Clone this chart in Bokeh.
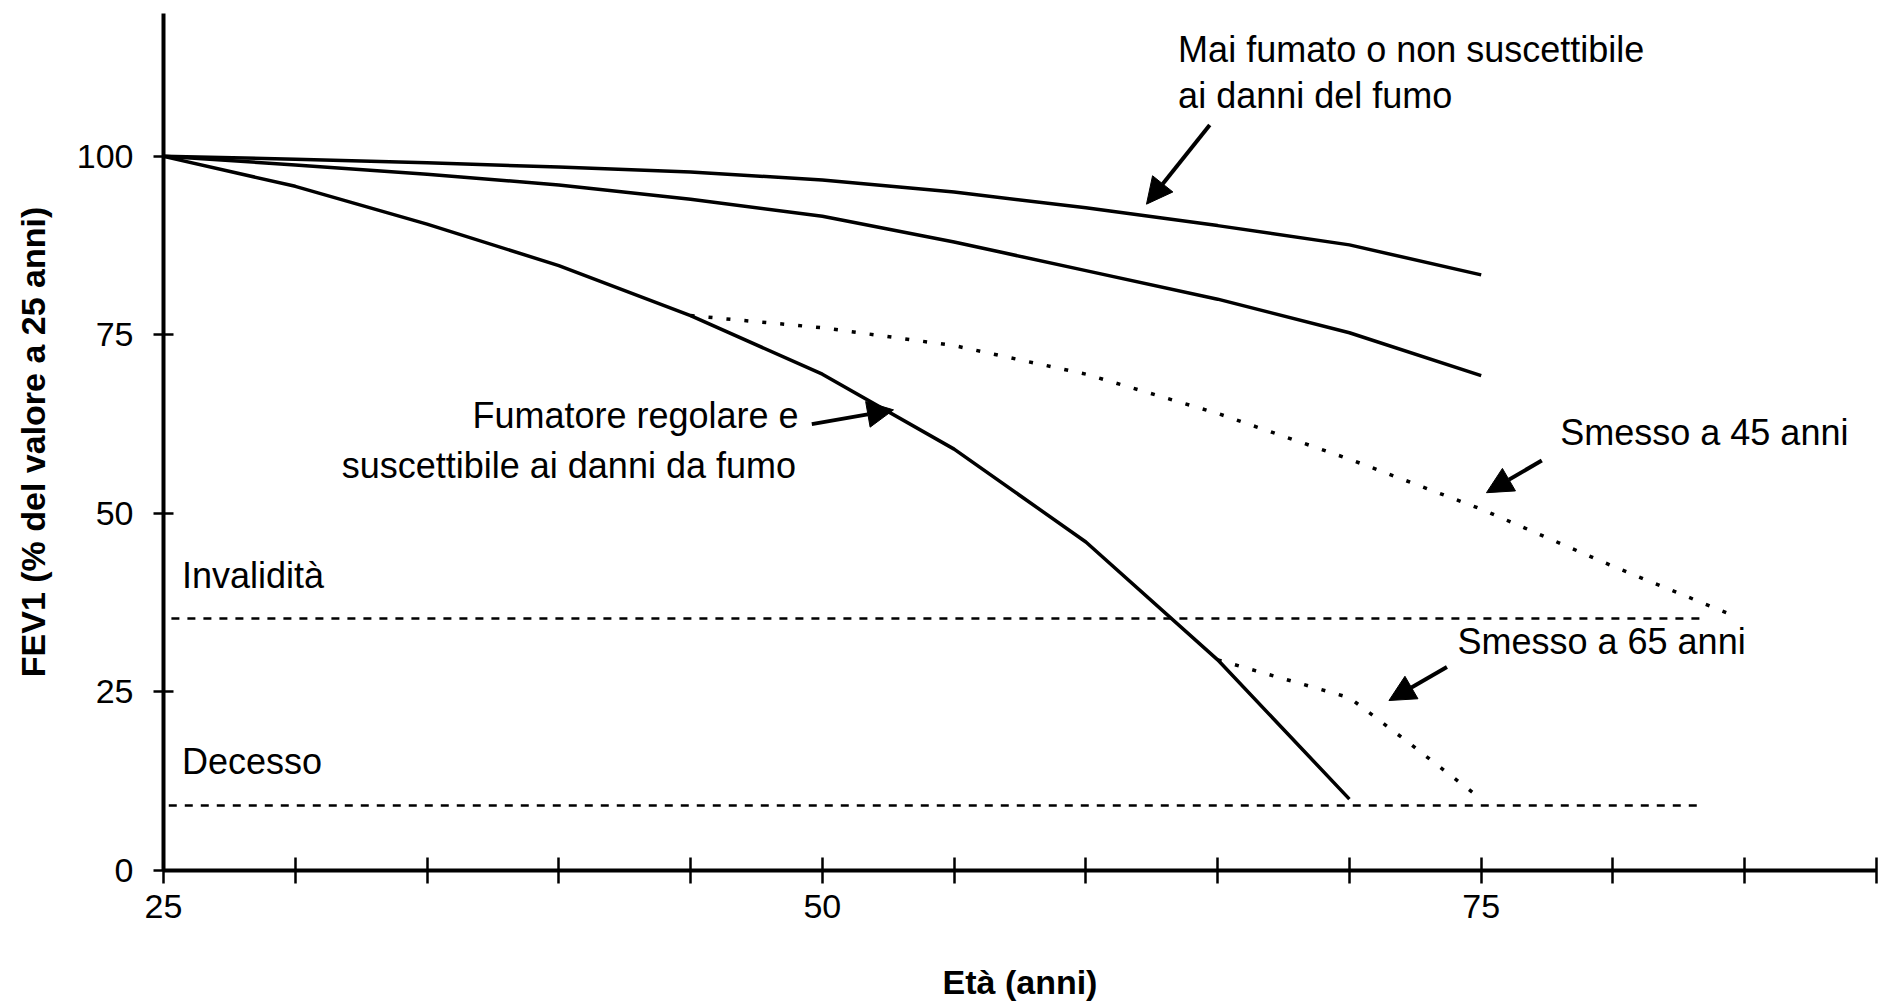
import math
from bokeh.plotting import figure
from bokeh.models import Range1d, FixedTicker, Arrow, NormalHead
from bokeh.embed import file_html
from bokeh.resources import INLINE
from bokeh.core.properties import value

# ---------------- data ----------------
age_never = [25, 30, 35, 40, 45, 50, 55, 60, 65, 70, 75]
fev_never = [100, 99.6, 99.1, 98.5, 97.8, 96.7, 95.0, 92.8, 90.3, 87.6, 83.4]

age_mid = [25, 30, 35, 40, 45, 50, 55, 60, 65, 70, 75]
fev_mid = [100, 98.8, 97.5, 96.0, 94.0, 91.6, 88.0, 84.0, 80.0, 75.3, 69.3]

age_smoker = [25, 30, 35, 40, 45, 50, 55, 60, 65, 70]
fev_smoker = [100, 95.8, 90.5, 84.7, 77.7, 69.5, 59.0, 46.0, 29.5, 10.0]

age_quit45 = [45, 50, 55, 60, 65, 70, 75, 80, 84.3]
fev_quit45 = [77.7, 76.0, 73.5, 69.5, 64.0, 57.6, 50.6, 42.6, 36.1]

age_quit65 = [65, 70, 72, 75]
fev_quit65 = [29.5, 24.2, 18.6, 10.0]

threshold_names = ["Invalidità", "Decesso"]
threshold_levels = [35.3, 9.1]
threshold_start = [25.3, 25.2]
threshold_end = [83.5, 83.4]
threshold_label_x = [25.7, 25.7]
threshold_label_y = [41.3, 15.25]

x_ticks = list(range(25, 95, 5))
x_tick_labels = ["25", "50", "75"]
y_ticks = [0, 25, 50, 75, 100]

label_texts = ["Mai fumato o non suscettibile", "ai danni del fumo",
               "Smesso a 45 anni", "Smesso a 65 anni"]
label_x = [63.5, 63.5, 78.0, 74.1]
label_y = [115.0, 108.45, 61.35, 32.0]

label_r_texts = ["Fumatore regolare e", "suscettibile ai danni da fumo"]
label_r_x = [49.1, 49.0]
label_r_y = [63.7, 56.75]

# arrows: (x_start, y_start, x_end, y_end)
arrow_x0 = [64.7, 49.6, 77.3, 73.7]
arrow_y0 = [104.4, 62.5, 57.4, 28.5]
arrow_x1 = [62.3, 52.7, 75.2, 71.5]
arrow_y1 = [93.3, 64.5, 52.9, 23.8]

x_title = "Età (anni)"
y_title = "FEV1 (% del valore a 25 anni)"

FONT = "Liberation Sans"
FS = "34px"
FS_NOTE = "36px"

# ---------------- figure ----------------
p = figure(width=1890, height=1003,
           x_range=Range1d(25, 90), y_range=Range1d(0, 120),
           output_backend="svg", toolbar_location=None,
           min_border_left=163, min_border_right=14,
           min_border_top=13, min_border_bottom=133)
p.outline_line_color = None
p.grid.visible = False
p.background_fill_color = "white"
p.border_fill_color = "white"

# axes
xa = p.xaxis[0]
xa.ticker = FixedTicker(ticks=x_ticks)
overrides = {}
for t in x_ticks:
    overrides[t] = ""
for s in x_tick_labels:
    overrides[int(s)] = s
xa.major_label_overrides = overrides
xa.axis_line_width = 4
xa.axis_line_color = "black"
xa.major_tick_line_width = 2.5
xa.major_tick_in = 13
xa.major_tick_out = 13
xa.minor_tick_line_color = None
xa.major_label_text_font = FONT
xa.major_label_text_font_size = FS
xa.major_label_text_color = "black"
xa.major_label_standoff = 11
xa.axis_label = x_title
xa.axis_label_text_font = FONT
xa.axis_label_text_font_size = FS
xa.axis_label_text_font_style = "bold"
xa.axis_label_text_color = "black"
xa.axis_label_standoff = 42

ya = p.yaxis[0]
ya.ticker = FixedTicker(ticks=y_ticks)
ya.axis_line_width = 4
ya.axis_line_color = "black"
ya.major_tick_line_width = 2.5
ya.major_tick_in = 10
ya.major_tick_out = 10
ya.minor_tick_line_color = None
ya.major_label_text_font = FONT
ya.major_label_text_font_size = FS
ya.major_label_text_color = "black"
ya.major_label_standoff = 20
ya.axis_label = y_title
ya.axis_label_text_font = FONT
ya.axis_label_text_font_size = FS
ya.axis_label_text_font_style = "bold"
ya.axis_label_text_color = "black"
ya.axis_label_standoff = 22

# threshold lines
for lvl, x0, x1 in zip(threshold_levels, threshold_start, threshold_end):
    p.line([x0, x1], [lvl, lvl], line_color="black", line_width=2.5,
           line_dash="8 8")

# curves
p.line(age_never, fev_never, line_color="black", line_width=3.5)
p.line(age_mid, fev_mid, line_color="black", line_width=3.5)
p.line(age_smoker, fev_smoker, line_color="black", line_width=3.5)
p.line(age_quit45, fev_quit45, line_color="black", line_width=3.5,
       line_dash="4 14")
p.line(age_quit65, fev_quit65, line_color="black", line_width=3.5,
       line_dash="4 14")

# texts
p.text(x=threshold_label_x, y=threshold_label_y, text=threshold_names,
       text_font=value(FONT), text_font_size=FS_NOTE,
       text_color="black", text_align="left", text_baseline="middle")
p.text(x=label_x, y=label_y, text=label_texts, text_font=value(FONT),
       text_font_size=FS_NOTE, text_color="black", text_align="left",
       text_baseline="middle")
p.text(x=label_r_x, y=label_r_y, text=label_r_texts, text_font=value(FONT),
       text_font_size=FS_NOTE, text_color="black", text_align="right",
       text_baseline="middle")

# arrows
for xs, ys, xe, ye in zip(arrow_x0, arrow_y0, arrow_x1, arrow_y1):
    p.add_layout(Arrow(end=NormalHead(size=26, fill_color="black",
                                      line_color="black", line_width=1),
                       x_start=xs, y_start=ys, x_end=xe, y_end=ye,
                       line_width=4, line_color="black"))

open("out.html", "w").write(file_html(p, INLINE))
